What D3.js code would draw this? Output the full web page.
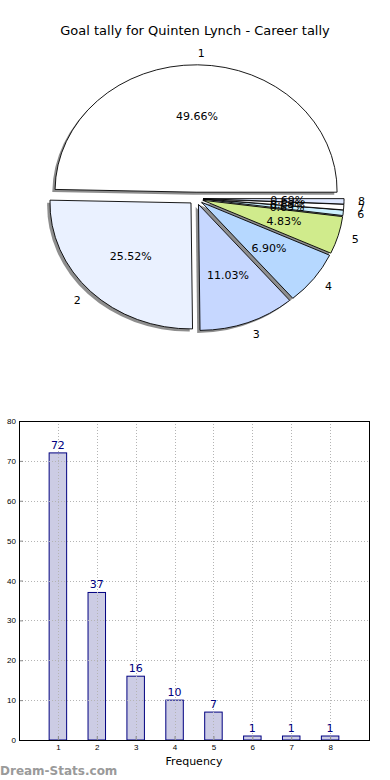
<!DOCTYPE html>
<html>
<head>
<meta charset="utf-8">
<script src="https://cdn.jsdelivr.net/npm/d3@7"></script>
<style>
  body { margin: 0; background: #fff; }
  svg { display: block; font-family: "DejaVu Sans", sans-serif; }
</style>
</head>
<body>
<div id="display-container"></div>
<script>
// goals per game -> number of games
var categories = ["1", "2", "3", "4", "5", "6", "7", "8"];
var counts = [72, 37, 16, 10, 7, 1, 1, 1];
var sliceColors = ["#ffffff", "#eaf1ff", "#c6d7ff", "#b6d8ff", "#d0eb8c", "#ccf0ff", "#ffffff", "#dce7ff"];
var yTicks = [0, 10, 20, 30, 40, 50, 60, 70, 80];
var title = "Goal tally for Quinten Lynch - Career tally";

var width = 390;
var height = 780;

var svg = d3.select("#display-container").append("svg")
    .attr("width", width)
    .attr("height", height);

svg.append("text")
    .attr("x", 195).attr("y", 35)
    .attr("text-anchor", "middle")
    .style("font-size", "13px")
    .text(title);

// ---- pie (elliptical, every slice exploded, with shadow) ----
var cx = 196, cy = 198.5, rx = 141, ry = 126;
var explode = 0.05;
var total = d3.sum(counts);

// matplotlib style: start at 3 o'clock, counterclockwise
var pie = d3.pie().sort(null)
    .startAngle(Math.PI / 2)
    .endAngle(Math.PI / 2 - 2 * Math.PI);
var arcs = pie(counts);
var arc = d3.arc().innerRadius(0).outerRadius(1);

function mid(d) { return (d.startAngle + d.endAngle) / 2; }
function offset(d, k) {
    var a = mid(d);
    return [cx + k * rx * Math.sin(a), cy - k * ry * Math.cos(a)];
}

var pg = svg.append("g");

// shadows go under all wedges
pg.selectAll(".shadow")
    .data(arcs)
    .enter().append("path")
    .attr("class", "shadow")
    .attr("d", arc)
    .attr("transform", function(d) {
        var p = offset(d, explode);
        return "translate(" + (p[0] - 2.8) + "," + (p[1] + 2.5) + ") scale(" + rx + "," + ry + ")";
    })
    .style("fill", "#8e8e8e")
    .style("stroke", "none");

pg.selectAll(".wedge")
    .data(arcs)
    .enter().append("path")
    .attr("class", "wedge")
    .attr("d", arc)
    .attr("transform", function(d) {
        var p = offset(d, explode);
        return "translate(" + p[0] + "," + p[1] + ") scale(" + rx + "," + ry + ")";
    })
    .attr("vector-effect", "non-scaling-stroke")
    .style("fill", function(d, i) { return sliceColors[i]; })
    .style("stroke", "#000")
    .style("stroke-width", 0.9)
    .style("stroke-linejoin", "round");

pg.selectAll(".pct")
    .data(arcs)
    .enter().append("text")
    .attr("class", "pct")
    .attr("x", function(d) { return offset(d, 0.6 + explode)[0]; })
    .attr("y", function(d) { return offset(d, 0.6 + explode)[1]; })
    .attr("dy", "0.35em")
    .attr("text-anchor", "middle")
    .style("font-size", "11px")
    .text(function(d) { return (d.value / total * 100).toFixed(2) + "%"; });

pg.selectAll(".lbl")
    .data(arcs)
    .enter().append("text")
    .attr("class", "lbl")
    .attr("x", function(d) { return offset(d, 1.1 + explode)[0]; })
    .attr("y", function(d) { return offset(d, 1.1 + explode)[1]; })
    .attr("dy", "0.35em")
    .attr("text-anchor", function(d) { return Math.sin(mid(d)) > 0 ? "start" : "end"; })
    .style("font-size", "11px")
    .text(function(d, i) { return categories[i]; });

// ---- bar chart ----
var m = {left: 19, right: 369, top: 421, bottom: 740};
var x = d3.scaleLinear().domain([0, 9]).range([m.left, m.right]);
var y = d3.scaleLinear().domain([0, 80]).range([m.bottom, m.top]);
var barW = 0.45;

var bg = svg.append("g");

bg.selectAll(".bar")
    .data(counts)
    .enter().append("rect")
    .attr("class", "bar")
    .attr("x", function(d, i) { return x(i + 1 - barW / 2); })
    .attr("width", x(barW) - x(0))
    .attr("y", function(d) { return y(d); })
    .attr("height", function(d) { return y(0) - y(d); })
    .style("fill", "#ccccE4")
    .style("stroke", "#000080")
    .style("stroke-width", 1);

// dotted grid on top of bars
bg.selectAll(".vgrid")
    .data(categories)
    .enter().append("line")
    .attr("x1", function(d, i) { return Math.round(x(i + 1)) + 0.5; })
    .attr("x2", function(d, i) { return Math.round(x(i + 1)) + 0.5; })
    .attr("y1", m.top).attr("y2", m.bottom)
    .style("stroke", "#b4b4b4")
    .style("stroke-dasharray", "1,2");

bg.selectAll(".hgrid")
    .data(yTicks.slice(1, -1))
    .enter().append("line")
    .attr("x1", m.left).attr("x2", m.right)
    .attr("y1", function(d) { return Math.round(y(d)) + 0.5; })
    .attr("y2", function(d) { return Math.round(y(d)) + 0.5; })
    .style("stroke", "#b4b4b4")
    .style("stroke-dasharray", "1,2");

bg.selectAll(".val")
    .data(counts)
    .enter().append("text")
    .attr("class", "val")
    .attr("x", function(d, i) { return x(i + 1); })
    .attr("y", function(d) { return y(d) - 4; })
    .attr("text-anchor", "middle")
    .style("font-size", "11px")
    .style("fill", "#000080")
    .text(function(d) { return d; });

// axes with inward ticks
var xAxis = d3.axisBottom(x)
    .tickValues(d3.range(1, 9))
    .tickFormat(d3.format("d"))
    .tickSizeInner(-4).tickSizeOuter(0).tickPadding(4);
var yAxis = d3.axisLeft(y)
    .tickValues(yTicks)
    .tickSizeInner(-4).tickSizeOuter(0).tickPadding(3);

var gx = bg.append("g").attr("transform", "translate(0," + m.bottom + ")").call(xAxis);
var gy = bg.append("g").attr("transform", "translate(" + m.left + ",0)").call(yAxis);
[gx, gy].forEach(function(g) {
    g.select(".domain").remove();
    g.selectAll("text").style("font-size", "8px").style("fill", "#000");
    g.selectAll("line").style("stroke", "#888");
});

bg.append("rect")
    .attr("x", m.left + 0.5).attr("y", m.top + 0.5)
    .attr("width", m.right - m.left).attr("height", m.bottom - m.top)
    .style("fill", "none")
    .style("stroke", "#000");

bg.append("text")
    .attr("x", (m.left + m.right) / 2).attr("y", 765)
    .attr("text-anchor", "middle")
    .style("font-size", "11px")
    .text("Frequency");

svg.append("text")
    .attr("x", 0).attr("y", 775)
    .style("font-size", "12px")
    .style("font-weight", "bold")
    .style("fill", "#9a9a9a")
    .text("Dream-Stats.com");
</script>
</body>
</html>
